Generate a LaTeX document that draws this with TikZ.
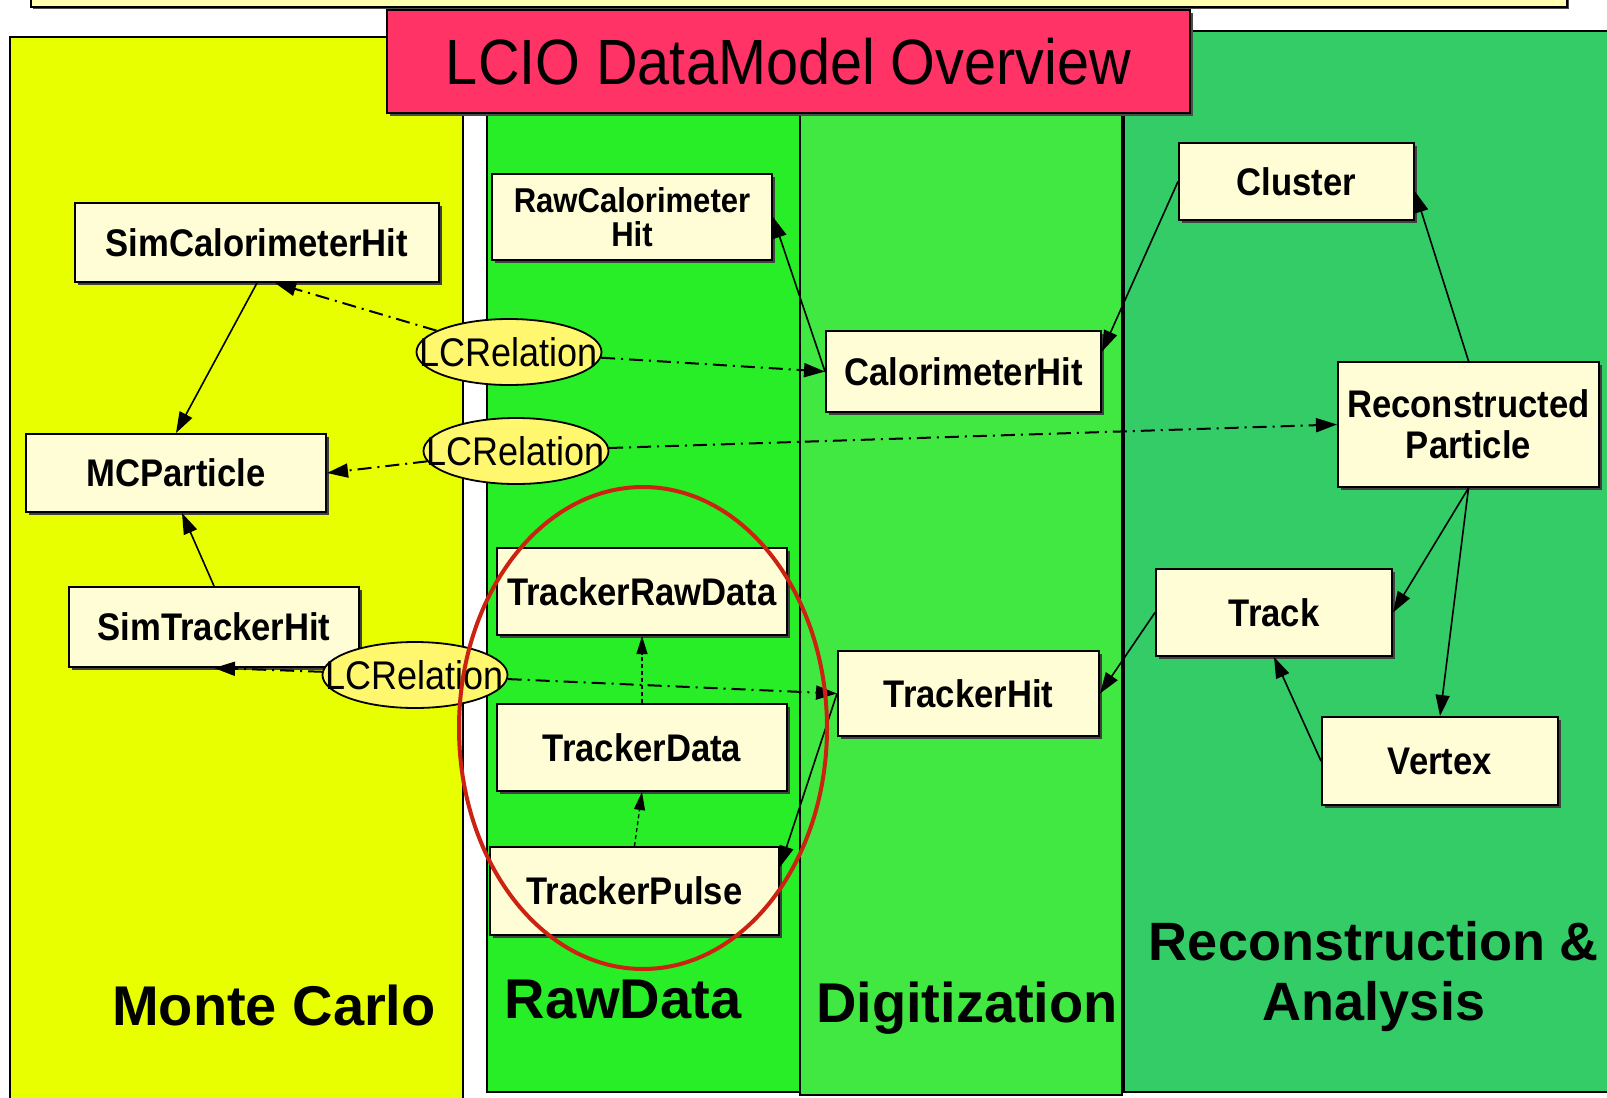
\documentclass[tikz,border=0pt]{standalone}
\usepackage{fontspec}
\setmainfont{Liberation Sans}
\newfontfamily\narrowsans[FakeStretch=0.9]{Liberation Sans}
\usetikzlibrary{arrows.meta,shapes.geometric,shadows}

\definecolor{mcyellow}{RGB}{232,255,0}
\definecolor{rawgreen}{RGB}{40,238,40}
\definecolor{diggreen}{RGB}{66,232,66}
\definecolor{recogreen}{RGB}{52,204,102}
\definecolor{titlepink}{RGB}{255,51,102}
\definecolor{barcream}{RGB}{255,255,176}
\definecolor{boxcream}{RGB}{255,253,213}
\definecolor{relyellow}{RGB}{255,248,110}
\definecolor{ringred}{RGB}{204,34,17}

\tikzset{
  entity/.style={draw, line width=2pt, fill=boxcream, inner sep=0pt, align=center,
    font=\narrowsans\bfseries\fontsize{38.5}{40}\selectfont,
    drop shadow={shadow xshift=2.5pt, shadow yshift=-2.5pt, fill=black!75, opacity=1}},
  lcrel/.style={ellipse, draw, line width=1.8pt, fill=relyellow, font=\narrowsans\fontsize{40}{42}\selectfont,
    inner xsep=-27pt, inner ysep=0pt, minimum width=185pt, minimum height=66pt},
  arr/.style={line width=1.6pt, -{Triangle[length=21pt,width=14pt]}},
  relarr/.style={line width=2pt, dash pattern=on 14pt off 6pt on 2pt off 6pt, -{Triangle[length=21pt,width=14pt]}},
  weakarr/.style={line width=1.3pt, dash pattern=on 4pt off 3pt, -{Triangle[length=18pt,width=11pt]}},
  column/.style={draw, line width=2pt},
  phase/.style={font=\bfseries\fontsize{56}{60}\selectfont, inner sep=0pt}
}

\begin{document}
\begin{tikzpicture}[x=1pt, y=-1pt]
\useasboundingbox (0,0) rectangle (1607,1098);
\clip (0,0) rectangle (1607,1098);
\fill[white] (0,0) rectangle (1607,1098);

% columns
\draw[column, fill=mcyellow] (10,37) rectangle (463,1130);
\draw[column, fill=rawgreen] (487,113) rectangle (800,1092);
\draw[column, fill=diggreen] (800,113) rectangle (1122,1095);
\draw[column, fill=recogreen] (1124,31) rectangle (1630,1092);

% header
\draw[line width=2pt, fill=barcream, drop shadow={shadow xshift=2pt, shadow yshift=-2pt, fill=black!70, opacity=1}] (31,-30) rectangle (1567,7);
\node[draw, line width=2pt, fill=titlepink, minimum width=803pt, minimum height=103pt, inner sep=0pt,
  font=\narrowsans\fontsize{64}{66}\selectfont, drop shadow={shadow xshift=3pt, shadow yshift=-3pt, fill=black!70, opacity=1}]
  (title) at (788.5,61.5) {LCIO DataModel Overview};

% monte carlo
\node[entity, minimum width=364pt, minimum height=79pt] (simcal) at (257,242.5) {SimCalorimeterHit};
\node[entity, minimum width=300pt, minimum height=78pt] (mcp) at (176,473) {MCParticle};
\node[entity, minimum width=290pt, minimum height=80pt] (simtrk) at (214,627) {SimTrackerHit};

% raw data
\node[entity, minimum width=280pt, minimum height=86pt, font=\narrowsans\bfseries\fontsize{34.5}{34}\selectfont] (rawcal) at (632,217) {RawCalorimeter\\Hit};
\node[entity, minimum width=290pt, minimum height=87pt] (trkraw) at (642,591.5) {TrackerRawData};
\node[entity, minimum width=290pt, minimum height=87pt] (trkdata) at (642,747.5) {TrackerData};
\node[entity, minimum width=289pt, minimum height=88pt] (trkpulse) at (634.5,891) {TrackerPulse};

% digitization
\node[entity, minimum width=275pt, minimum height=81pt] (calhit) at (963.5,371.5) {CalorimeterHit};
\node[entity, minimum width=261pt, minimum height=85pt] (trkhit) at (968.5,693.5) {TrackerHit};

% reconstruction
\node[entity, minimum width=235pt, minimum height=77pt] (cluster) at (1296.5,181.5) {Cluster};
\node[entity, minimum width=261pt, minimum height=125pt, font=\narrowsans\bfseries\fontsize{38.5}{41}\selectfont] (reco) at (1468.5,424.5) {Reconstructed\\Particle};
\node[entity, minimum width=236pt, minimum height=87pt] (track) at (1274,612.5) {Track};
\node[entity, minimum width=236pt, minimum height=88pt] (vertex) at (1440,761) {Vertex};

% relations
\node[lcrel] (rel1) at (509,352) {LCRelation};
\node[lcrel] (rel2) at (516,451) {LCRelation};
\node[lcrel] (rel3) at (415,675) {LCRelation};

\draw[relarr] (rel1) -- ([xshift=18pt]simcal.south);
\draw[relarr] (rel1) -- (calhit.west);
\draw[relarr] (rel2) -- (mcp.east);
\draw[relarr] (rel2) -- (reco.west);
\draw[relarr] (rel3) -- (simtrk.south);
\draw[relarr] (rel3) -- (trkhit.west);

% links
\draw[arr] (simcal.south) -- (mcp.north);
\draw[arr] (simtrk.north) -- ([xshift=6pt]mcp.south);
\draw[arr] (calhit.west) -- (rawcal.east);
\draw[arr] (cluster.west) -- ([yshift=20pt]calhit.east);
\draw[arr] (reco.north) -- ([yshift=-10pt]cluster.east);
\draw[arr] (reco.south) -- (track.east);
\draw[arr] (reco.south) -- (vertex.north);
\draw[arr] (vertex.west) -- (track.south);
\draw[arr] (track.west) -- (trkhit.east);
\draw[arr] (trkhit.west) -- ([yshift=24pt]trkpulse.east);
\draw[weakarr] (trkpulse.north) -- (trkdata.south);
\draw[weakarr] (trkdata.north) -- (trkraw.south);

% labels
\node[phase, anchor=base] (mclabel) at (274,1025) {Monte Carlo};
\node[phase, anchor=base] (rawlabel) at (623,1018) {RawData};
\node[phase, anchor=base] (diglabel) at (967,1022) {Digitization};
\node[phase, align=center, anchor=north, font=\bfseries\fontsize{54}{60}\selectfont] (recolabel) at (1374,921) {Reconstruction \&\\Analysis};

% highlight
\draw[ringred, line width=4pt] (643,728) ellipse [x radius=184pt, y radius=241pt];
\end{tikzpicture}
\end{document}
